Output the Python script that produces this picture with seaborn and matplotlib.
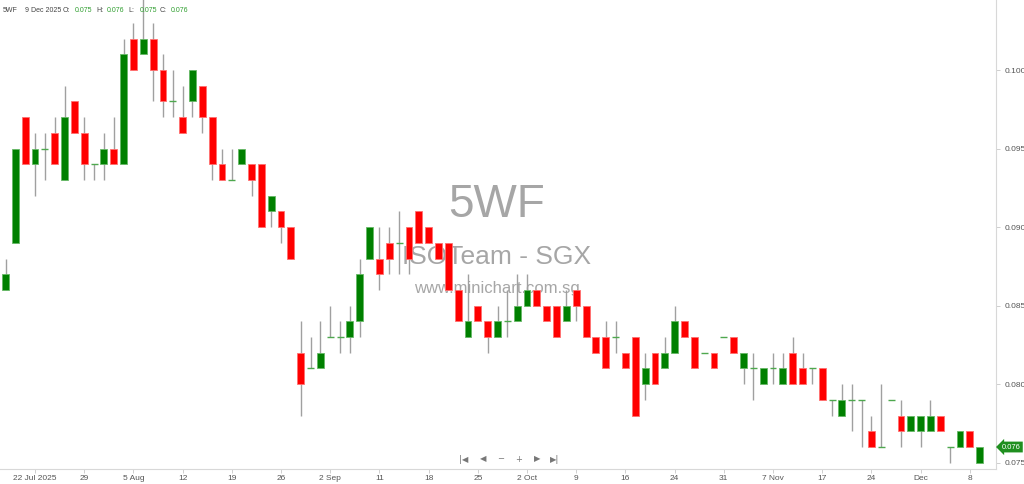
import numpy as np
import pandas as pd
import seaborn as sns
import matplotlib
matplotlib.use('Agg')
import matplotlib.pyplot as plt

# daily candles for 5WF (only traded days), oldest first
opens = [0.086, 0.089, 0.097, 0.094, 0.095, 0.096, 0.093, 0.098, 0.096, 0.094,
         0.094, 0.095, 0.094, 0.102, 0.101, 0.102, 0.100, 0.098, 0.097, 0.098,
         0.099, 0.097, 0.094, 0.093, 0.094, 0.094, 0.094, 0.091, 0.091, 0.090,
         0.082, 0.081, 0.081, 0.083, 0.083, 0.083, 0.084, 0.088, 0.088, 0.089,
         0.089, 0.090, 0.091, 0.090, 0.089, 0.089, 0.086, 0.083, 0.085, 0.084,
         0.083, 0.084, 0.084, 0.085, 0.086, 0.085, 0.085, 0.084, 0.086, 0.085,
         0.083, 0.083, 0.083, 0.082, 0.083, 0.080, 0.082, 0.081, 0.082, 0.084,
         0.083, 0.082, 0.082, 0.083, 0.083, 0.081, 0.081, 0.080, 0.081, 0.080,
         0.082, 0.081, 0.081, 0.081, 0.079, 0.078, 0.079, 0.079, 0.077, 0.076,
         0.079, 0.078, 0.077, 0.077, 0.077, 0.078, 0.076, 0.076, 0.077, 0.075]
highs = [0.088, 0.095, 0.097, 0.096, 0.096, 0.097, 0.099, 0.098, 0.097, 0.094,
         0.096, 0.097, 0.102, 0.103, 0.105, 0.103, 0.101, 0.100, 0.099, 0.100,
         0.099, 0.097, 0.095, 0.095, 0.095, 0.094, 0.094, 0.092, 0.091, 0.090,
         0.084, 0.083, 0.084, 0.085, 0.084, 0.085, 0.088, 0.090, 0.090, 0.090,
         0.091, 0.090, 0.091, 0.090, 0.089, 0.089, 0.086, 0.087, 0.085, 0.084,
         0.085, 0.086, 0.087, 0.087, 0.086, 0.085, 0.085, 0.086, 0.086, 0.085,
         0.083, 0.084, 0.084, 0.082, 0.083, 0.082, 0.082, 0.083, 0.085, 0.084,
         0.083, 0.082, 0.082, 0.083, 0.083, 0.082, 0.082, 0.081, 0.082, 0.082,
         0.083, 0.082, 0.081, 0.081, 0.079, 0.080, 0.080, 0.079, 0.078, 0.080,
         0.079, 0.079, 0.078, 0.078, 0.079, 0.078, 0.076, 0.077, 0.077, 0.076]
lows = [0.086, 0.089, 0.094, 0.092, 0.093, 0.094, 0.093, 0.096, 0.093, 0.093,
        0.093, 0.094, 0.094, 0.100, 0.101, 0.098, 0.097, 0.097, 0.096, 0.097,
        0.096, 0.093, 0.093, 0.093, 0.094, 0.092, 0.090, 0.090, 0.089, 0.088,
        0.078, 0.081, 0.081, 0.083, 0.082, 0.082, 0.083, 0.088, 0.086, 0.087,
        0.087, 0.087, 0.089, 0.089, 0.088, 0.086, 0.084, 0.083, 0.084, 0.082,
        0.083, 0.083, 0.084, 0.085, 0.085, 0.084, 0.083, 0.084, 0.084, 0.083,
        0.082, 0.081, 0.082, 0.081, 0.078, 0.079, 0.080, 0.081, 0.082, 0.083,
        0.081, 0.082, 0.081, 0.083, 0.082, 0.080, 0.079, 0.080, 0.080, 0.080,
        0.080, 0.080, 0.080, 0.079, 0.078, 0.078, 0.077, 0.076, 0.076, 0.076,
        0.079, 0.076, 0.077, 0.076, 0.077, 0.077, 0.075, 0.076, 0.076, 0.075]
closes = [0.087, 0.095, 0.094, 0.095, 0.095, 0.094, 0.097, 0.096, 0.094, 0.094,
          0.095, 0.094, 0.101, 0.100, 0.102, 0.100, 0.098, 0.098, 0.096, 0.100,
          0.097, 0.094, 0.093, 0.093, 0.095, 0.093, 0.090, 0.092, 0.090, 0.088,
          0.080, 0.081, 0.082, 0.083, 0.083, 0.084, 0.087, 0.090, 0.087, 0.088,
          0.089, 0.088, 0.089, 0.089, 0.088, 0.086, 0.084, 0.084, 0.084, 0.083,
          0.084, 0.084, 0.085, 0.086, 0.085, 0.084, 0.083, 0.085, 0.085, 0.083,
          0.082, 0.081, 0.083, 0.081, 0.078, 0.081, 0.080, 0.082, 0.084, 0.083,
          0.081, 0.082, 0.081, 0.083, 0.082, 0.082, 0.081, 0.081, 0.081, 0.081,
          0.080, 0.080, 0.081, 0.079, 0.079, 0.079, 0.079, 0.079, 0.076, 0.076,
          0.079, 0.077, 0.078, 0.078, 0.078, 0.077, 0.076, 0.077, 0.076, 0.076]

tick_pos = [3, 8, 13, 18, 23, 28, 33, 38, 43, 48, 53, 58, 63, 68, 73, 78, 83, 88, 93, 98]
tick_labels = ['22 Jul 2025', '29', '5 Aug', '12', '19', '26', '2 Sep', '11', '18', '25',
               '2 Oct', '9', '16', '24', '31', '7 Nov', '17', '24', 'Dec', '8']
y_ticks = [0.075, 0.080, 0.085, 0.090, 0.095, 0.100]

df = pd.DataFrame({'o': opens, 'h': highs, 'l': lows, 'c': closes})
df['i'] = np.arange(len(df))

sns.set_theme(style='white')
plt.rcParams['font.family'] = ['Liberation Sans', 'DejaVu Sans']

fig = plt.figure(figsize=(10.24, 4.84), dpi=100)
ax = fig.add_axes([0, 15 / 484, 996 / 1024, 469 / 484])

GREEN = '#008000'
RED = '#ff0000'

# wicks
ax.vlines(df['i'], df['l'], df['h'], color='#a0a0a0', lw=1, zorder=2)

# bodies
body = df[df['o'] != df['c']]
up = body['c'] > body['o']
ax.bar(body['i'], (body['c'] - body['o']).abs(), bottom=body[['o', 'c']].min(axis=1),
       width=0.7, color=np.where(up, GREEN, RED),
       edgecolor=np.where(up, '#66b866', '#ff7070'), linewidth=0.6, zorder=3)

# doji
doji = df[df['o'] == df['c']]
ax.hlines(doji['o'], doji['i'] - 0.35, doji['i'] + 0.35, color='#4ea84e', lw=1, zorder=3)

ax.set_xlim(-0.56, 100.66)
ax.set_ylim(0.0746, 0.10446)

ax.yaxis.tick_right()
ax.set_yticks(y_ticks)
ax.set_yticklabels([f'{v:.3f}' for v in y_ticks])
ax.set_xticks(tick_pos)
ax.set_xticklabels(tick_labels)
ax.tick_params(axis='both', length=3, width=0.6, color='#c8c8c8', labelsize=6,
               labelcolor='#555555', pad=2)
ax.tick_params(axis='x', bottom=True, pad=1.5)
ax.tick_params(axis='y', right=True, pad=3)
for s in ['left', 'top']:
    ax.spines[s].set_visible(False)
for s in ['right', 'bottom']:
    ax.spines[s].set_color('#d8d8d8')
    ax.spines[s].set_linewidth(0.8)
ax.grid(False)

# watermark
wm = '#a6a6a6'
ax.text(497 / 1024, 1 - 205 / 484, '5WF', transform=fig.transFigure, ha='center', va='center',
        fontsize=33, color=wm, zorder=1)
ax.text(497 / 1024, 1 - 257 / 484, 'ISOTeam - SGX', transform=fig.transFigure, ha='center',
        va='center', fontsize=19, color=wm, zorder=1)
ax.text(497 / 1024, 1 - 289 / 484, 'www.minichart.com.sg', transform=fig.transFigure,
        ha='center', va='center', fontsize=12, color=wm, zorder=1)

# header line
hdr_y = 1 - 10 / 484
parts = [(3, '5WF', '#444444'), (25, '9 Dec 2025', '#444444'), (63, 'O:', '#444444'),
         (75, f'{opens[-1]:.3f}', '#2e9e2e'), (96, 'H:', '#444444'),
         (107, f'{highs[-1]:.3f}', '#2e9e2e'), (128, 'L:', '#444444'),
         (140, f'{lows[-1]:.3f}', '#2e9e2e'), (160, 'C:', '#444444'),
         (171, f'{closes[-1]:.3f}', '#2e9e2e')]
for px, s, col in parts:
    fig.text(px / 1024, hdr_y, s, ha='left', va='center', fontsize=5, color=col)

# last price tag
ax.annotate(f'{closes[-1]:.3f}', xy=(1.006, closes[-1]), xycoords=('axes fraction', 'data'),
            ha='left', va='center', fontsize=5.5, color='white', annotation_clip=False,
            bbox=dict(boxstyle='larrow,pad=0.25', fc='#1f8f1f', ec='none'))

# navigation buttons
nav_y = 1 - 459 / 484
for px, s in [(464, '|◀'), (483, '◀'), (501, '−'), (519, '+'), (537, '▶'), (555, '▶|')]:
    fig.text(px / 1024, nav_y, s, ha='center', va='center', fontsize=6, color='#777777',
             family=['DejaVu Sans'])

fig.savefig('out.png', dpi=100)
